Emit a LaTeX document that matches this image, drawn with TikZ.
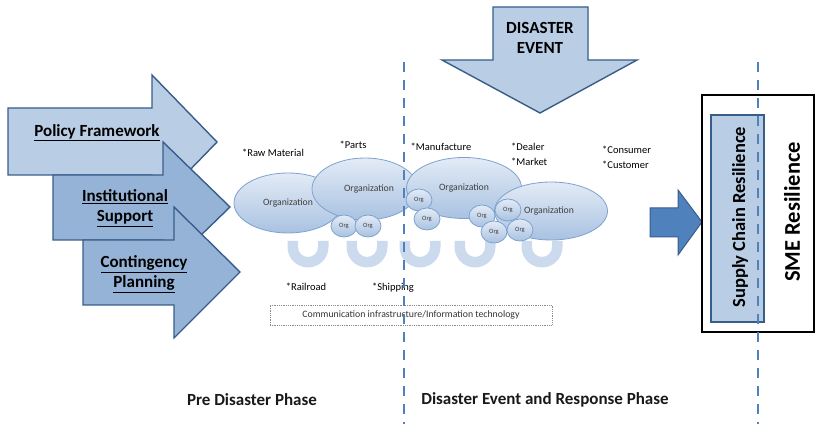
\documentclass[tikz,border=0pt]{standalone}
\usepackage{fontspec}
\setmainfont{Carlito}
\usetikzlibrary{shapes.geometric}
\begin{document}
\definecolor{paleblue}{HTML}{B9CDE5}
\definecolor{midblue}{HTML}{95B3D7}
\definecolor{edgeblue}{HTML}{385D8A}
\definecolor{accent}{HTML}{4F81BD}
\definecolor{orgtop}{HTML}{E3EBF6}
\definecolor{orgbot}{HTML}{A9C2E1}
\definecolor{orgedge}{HTML}{7EA2CE}
\definecolor{arcfill}{HTML}{C3D4EA}
\begin{tikzpicture}[x=1pt,y=-1pt,
  blockarrow/.style={draw=edgeblue,line width=1.4pt,line join=miter},
  framelabel/.style={font=\fontsize{17}{20}\selectfont\bfseries,align=center,text=black},
  orgbig/.style={ellipse,draw=orgedge,line width=0.8pt,top color=orgtop,bottom color=orgbot,
    minimum width=#1,font=\fontsize{9.7}{11}\selectfont,text=black!75,inner sep=0pt},
  orgsmall/.style={ellipse,draw=orgedge,line width=0.8pt,top color=orgtop,bottom color=orgbot,
    minimum width=26pt,minimum height=22pt,font=\fontsize{6.5}{7}\selectfont,text=black!75,inner sep=0pt},
  tag/.style={font=\fontsize{10.5}{12}\selectfont,text=black,inner sep=0pt,align=left},
  phase/.style={font=\fontsize{17}{20}\selectfont\bfseries,text=black!90,inner sep=0pt},
  phaseline/.style={draw=accent,line width=2.6pt,dash pattern=on 10pt off 8pt},
  ubend/.style={fill=arcfill,opacity=0.85}
]
\useasboundingbox (0,0) rectangle (821,443);

% --- three stacked input arrows (drawn back to front) ---
\path[blockarrow,fill=paleblue] (8,108) -- (152,108) -- (152,75) -- (217,142) -- (152,209) -- (152,175) -- (8,175) -- cycle;
\path[blockarrow,fill=midblue] (53,175) -- (163,175) -- (163,142) -- (230,207) -- (163,272) -- (163,240) -- (53,240) -- cycle;
\path[blockarrow,fill=midblue] (83,240) -- (174,240) -- (174,207) -- (240,272) -- (174,338) -- (174,305) -- (83,305) -- cycle;
\node[framelabel] (policy) at (97,133) {\underline{Policy Framework}};
\node[framelabel] (inst) at (125,208) {\underline{Institutional}\\\underline{Support}};
\node[framelabel] (cont) at (144,274) {\underline{Contingency}\\\underline{Planning}};

% --- disaster event arrow ---
\path[blockarrow,fill=paleblue] (493,7) -- (588,7) -- (588,60) -- (637,60) -- (540,113) -- (442,60) -- (493,60) -- cycle;
\node[framelabel] (event) at (540,38) {DISASTER\\EVENT};

% --- links between organisations (U bends) ---
\foreach \cx in {308,367,420,475,542}{
  \path[ubend] (\cx-20.5,241) -- (\cx-20.5,247) arc[start angle=180,end angle=0,radius=20.5]
     -- (\cx+20.5,241) -- (\cx+10,241) -- (\cx+10,247) arc[start angle=0,end angle=180,radius=10]
     -- (\cx-10,241) -- cycle;
}

% --- organisations ---
\node[orgbig=108pt,minimum height=60pt] (o1) at (288,203) {Organization};
\node[orgbig=106pt,minimum height=62pt] (o2) at (365,189) {\hspace*{8pt}Organization};
\node[orgsmall] (s1) at (344,226) {Org};
\node[orgsmall] (s2) at (368,226) {Org};
\node[orgbig=115pt,minimum height=61pt] (o3) at (464,188) {Organization};
\node[orgsmall] (s3) at (419,200) {Org};
\node[orgsmall] (s4) at (427,219) {Org};
\node[orgsmall] (s5) at (482,216) {Org};
\node[orgbig=113pt,minimum height=58pt] (o4) at (551,211) {\hspace*{-4pt}Organization};
\node[orgsmall] (s6) at (508,210) {Org};
\node[orgsmall] (s7) at (494,232) {Org};
\node[orgsmall] (s8) at (520,230) {Org};

% --- supply chain stages ---
\node[tag] (raw) at (273,153) {*Raw Material};
\node[tag] (parts) at (353,145) {*Parts};
\node[tag] (manu) at (441,147) {*Manufacture};
\node[tag,anchor=west] (dealer) at (511,147) {*Dealer};
\node[tag,anchor=west] (market) at (511,162) {*Market};
\node[tag,anchor=west] (consumer) at (602,150) {*Consumer};
\node[tag,anchor=west] (customer) at (602,165) {*Customer};
\node[tag] (rail) at (306,287) {*Railroad};
\node[tag] (ship) at (393,288) {*Shipping};

% --- communication layer ---
\node[draw=black!45,densely dotted,line width=0.8pt,minimum width=282pt,minimum height=20pt,
  font=\fontsize{9.8}{11}\selectfont,text=black!80,inner sep=0pt] (comm) at (411,315)
  {Communication infrastructure/Information technology};

% --- outcome ---
\path[blockarrow,fill=accent,line width=1pt] (650,208) -- (678,208) -- (678,190) -- (702,222) -- (678,255) -- (678,237) -- (650,237) -- cycle;
\node[draw=black,line width=1.8pt,minimum width=112pt,minimum height=237pt,inner sep=0pt] (sme) at (758,213.5) {};
\node[draw=edgeblue,fill=paleblue,line width=1.4pt,minimum width=53pt,minimum height=207pt,inner sep=0pt] (scr) at (737.5,218.5) {};
\node[rotate=90,font=\fontsize{18.5}{22}\selectfont\bfseries,text=black] (scrlabel) at (740,217) {Supply Chain Resilience};
\node[rotate=90,font=\fontsize{22.5}{26}\selectfont\bfseries,text=black] (smelabel) at (792,212) {SME Resilience};

% --- phase boundaries ---
\coordinate (b1top) at (404,62);
\coordinate (b1bot) at (404,424);
\coordinate (b2top) at (758,62);
\coordinate (b2bot) at (758,424);
\draw[phaseline] (b1top) -- (b1bot);
\draw[phaseline] (b2top) -- (b2bot);

\node[phase] (pre) at (252,400) {Pre Disaster Phase};
\node[phase] (resp) at (545,400) {Disaster Event and Response Phase};
\end{tikzpicture}
\end{document}
